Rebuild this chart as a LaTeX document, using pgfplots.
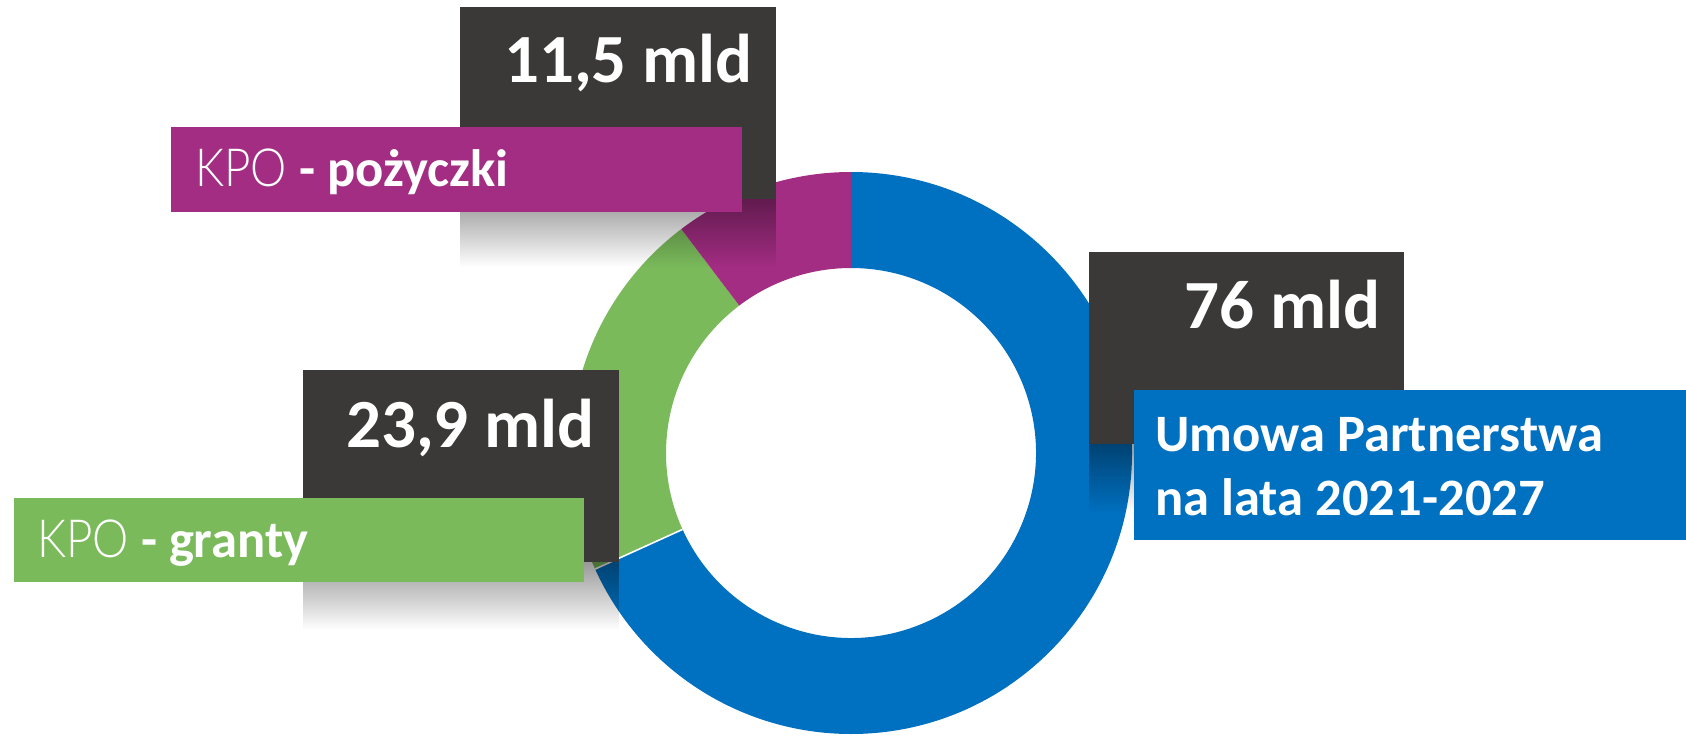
\documentclass[border=0pt]{standalone}
\usepackage{pgfplots}
\pgfplotsset{compat=1.18}
\usepackage{pgfplotstable}
\usepackage{fontspec}
\setmainfont{Carlito}
\newfontfamily\lightfont{Lato Light}[FakeStretch=0.87]
\usetikzlibrary{fadings,calc}
\definecolor{cdark}{HTML}{3A3938}
\definecolor{cblue}{HTML}{0070C0}
\definecolor{cgreen}{HTML}{7ABA5B}
\definecolor{cpurple}{HTML}{A32D83}
\tikzfading[name=shadowfade, top color=transparent!60, bottom color=transparent!100]

\pgfplotstableread{
name value
UP 76
grants 23.9
loans 11.5
}\donutdata

\begin{document}
\begin{tikzpicture}
\pgfplotstablegetelem{0}{value}\of\donutdata \let\vA\pgfplotsretval
\pgfplotstablegetelem{1}{value}\of\donutdata \let\vB\pgfplotsretval
\pgfplotstablegetelem{2}{value}\of\donutdata \let\vC\pgfplotsretval
\pgfmathsetmacro\tot{\vA+\vB+\vC}
\pgfmathsetmacro\aA{90}
\pgfmathsetmacro\aB{90-\vA/\tot*360}
\pgfmathsetmacro\aC{\aB-\vB/\tot*360}
\pgfmathsetmacro\aD{\aC-\vC/\tot*360}
\def\Ro{140.5pt}
\def\Ri{92.5pt}
\begin{axis}[x=0.5pt,y=0.5pt,xmin=0,xmax=1686,ymin=0,ymax=735,hide axis,clip=false]
\fill[white] (axis cs:0,0) rectangle (axis cs:1686,735);
% donut sectors
\fill[cblue] ($(axis cs:851,282)+(\aA:\Ro)$) arc[start angle=\aA, end angle=\aB, radius=\Ro] -- ($(axis cs:851,282)+(\aB:\Ri)$) arc[start angle=\aB, end angle=\aA, radius=\Ri] -- cycle;
\fill[cgreen] ($(axis cs:851,282)+(\aB:\Ro)$) arc[start angle=\aB, end angle=\aC, radius=\Ro] -- ($(axis cs:851,282)+(\aC:\Ri)$) arc[start angle=\aC, end angle=\aB, radius=\Ri] -- cycle;
\fill[cpurple] ($(axis cs:851,282)+(\aC:\Ro)$) arc[start angle=\aC, end angle=\aD, radius=\Ro] -- ($(axis cs:851,282)+(\aD:\Ri)$) arc[start angle=\aD, end angle=\aC, radius=\Ri] -- cycle;
\draw[white, line width=0.8pt] ($(axis cs:851,282)+(\aB:\Ri)$) -- ($(axis cs:851,282)+(\aB:\Ro)$);
% shadows
\fill[black, path fading=shadowfade] (axis cs:460,536) rectangle (axis cs:776,468);
\fill[black, path fading=shadowfade] (axis cs:303,173) rectangle (axis cs:619,105);
\fill[black, path fading=shadowfade] (axis cs:1089,291) rectangle (axis cs:1404,223);
% dark boxes
\fill[cdark] (axis cs:460,728) rectangle (axis cs:776,536);
\fill[cdark] (axis cs:303,365) rectangle (axis cs:619,173);
\fill[cdark] (axis cs:1089,483) rectangle (axis cs:1404,291);
% coloured boxes
\fill[cpurple] (axis cs:171,608) rectangle (axis cs:742,523);
\fill[cgreen] (axis cs:14,237) rectangle (axis cs:584,153);
\fill[cblue] (axis cs:1134,345) rectangle (axis cs:1686,195);
% texts
\node[anchor=base east, inner sep=0pt, text=white, font=\fontsize{34.5}{40}\selectfont\bfseries] at (axis cs:753,652) {11,5 mld};
\node[anchor=base east, inner sep=0pt, text=white, font=\fontsize{34.5}{40}\selectfont\bfseries] at (axis cs:595,288) {23,9 mld};
\node[anchor=base east, inner sep=0pt, text=white, font=\fontsize{34.5}{40}\selectfont\bfseries] at (axis cs:1381,407) {76 mld};
\node[anchor=base west, inner sep=0pt, text=white, font=\fontsize{26.3}{31}\selectfont] at (axis cs:195,548) {{\lightfont KPO} \textbf{- pożyczki}};
\node[anchor=base west, inner sep=0pt, text=white, font=\fontsize{26.3}{31}\selectfont] at (axis cs:37,178) {{\lightfont KPO} \textbf{- granty}};
\node[anchor=base west, inner sep=0pt, text=white, font=\fontsize{26.3}{31}\selectfont\bfseries] at (axis cs:1155,284) {Umowa Partnerstwa};
\node[anchor=base west, inner sep=0pt, text=white, font=\fontsize{26.3}{31}\selectfont\bfseries] at (axis cs:1155,220) {na lata 2021-2027};
\end{axis}
\end{tikzpicture}
\end{document}
